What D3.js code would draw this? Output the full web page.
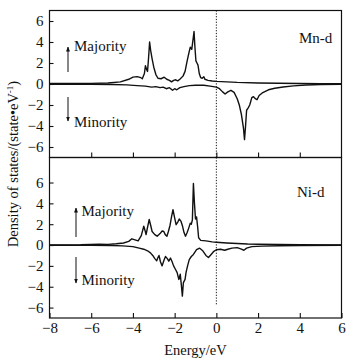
<!DOCTYPE html>
<html>
<head>
<meta charset="utf-8">
<script src="https://cdn.jsdelivr.net/npm/d3@7"></script>
<style>
  html, body { margin: 0; padding: 0; background: #fff; }
  svg { display: block; }
  text { font-family: "Liberation Serif", "Times New Roman", serif; fill: #111; }
</style>
</head>
<body>
<svg id="chart" width="348" height="364"></svg>
<script>
// Energy axis ticks and labels
const energyTicks = [-8, -6, -4, -2, 0, 2, 4, 6];
const innerEnergyTicks = [-6, -4, -2, 0, 2, 4];
const dosTicks = [-6, -4, -2, 0, 2, 4, 6];

// Mn-d projected DOS: [energy (eV), states/eV]
const mnUp = [
  [-8, 0.05], [-7, 0.05], [-6, 0.06], [-5.2, 0.1], [-4.6, 0.2], [-4.2, 0.45], [-4.0, 0.65],
  [-3.8, 0.7], [-3.62, 0.6], [-3.55, 0.5], [-3.45, 1.0], [-3.4, 1.75], [-3.35, 1.4], [-3.3, 1.2],
  [-3.25, 2.5], [-3.2, 4.0], [-3.15, 3.2], [-3.08, 2.4], [-3.0, 1.6], [-2.9, 0.9], [-2.8, 0.55],
  [-2.65, 0.5], [-2.5, 0.65], [-2.38, 0.45], [-2.25, 0.35], [-2.15, 0.2], [-2.05, 0.35],
  [-1.95, 0.4], [-1.85, 0.3], [-1.75, 0.45], [-1.6, 0.75], [-1.5, 1.2], [-1.4, 2.2], [-1.3, 3.1],
  [-1.25, 3.5], [-1.18, 3.3], [-1.12, 4.2], [-1.07, 5.0], [-1.03, 3.6], [-0.98, 2.2], [-0.93, 2.0],
  [-0.88, 1.8], [-0.82, 1.0], [-0.75, 0.6], [-0.68, 0.55], [-0.6, 0.7], [-0.55, 0.45], [-0.4, 0.35],
  [-0.2, 0.28], [0, 0.25], [0.5, 0.2], [1, 0.15], [2, 0.1], [3, 0.07], [4, 0.05], [5, 0.04], [6, 0.03]
];
const mnDown = [
  [-8, -0.02], [-6, -0.03], [-5, -0.05], [-4.3, -0.08], [-3.8, -0.15], [-3.4, -0.2], [-3.1, -0.3],
  [-2.9, -0.25], [-2.7, -0.35], [-2.55, -0.3], [-2.4, -0.45], [-2.25, -0.35], [-2.1, -0.6],
  [-2.0, -0.45], [-1.9, -0.55], [-1.75, -0.35], [-1.55, -0.25], [-1.3, -0.15], [-1.0, -0.12],
  [-0.6, -0.12], [-0.3, -0.2], [0, -0.3], [0.15, -0.45], [0.3, -0.75], [0.42, -0.95], [0.55, -0.75],
  [0.7, -0.6], [0.85, -0.8], [1.0, -1.4], [1.1, -2.0], [1.2, -2.9], [1.3, -4.2], [1.35, -5.3],
  [1.4, -4.0], [1.45, -2.5], [1.52, -2.3], [1.6, -2.0], [1.7, -1.3], [1.78, -1.2], [1.87, -1.4],
  [1.95, -1.5], [2.05, -1.1], [2.2, -0.85], [2.5, -0.55], [2.8, -0.4], [3.2, -0.28], [3.7, -0.18],
  [4.3, -0.1], [5, -0.05], [6, -0.02]
];

// Ni-d projected DOS: [energy (eV), states/eV]
const niUp = [
  [-8, 0.02], [-6.5, 0.03], [-5.6, 0.08], [-5.2, 0.06], [-4.8, 0.12], [-4.45, 0.2], [-4.2, 0.35],
  [-4.05, 0.6], [-3.9, 0.5], [-3.75, 0.4], [-3.6, 0.9], [-3.48, 1.8], [-3.42, 1.4], [-3.37, 1.0],
  [-3.3, 1.7], [-3.22, 2.45], [-3.15, 1.9], [-3.08, 1.3], [-2.95, 1.0], [-2.84, 0.85], [-2.7, 1.1],
  [-2.6, 1.35], [-2.52, 1.3], [-2.45, 1.0], [-2.37, 0.85], [-2.3, 1.3], [-2.22, 1.9], [-2.15, 2.7],
  [-2.08, 3.4], [-2.0, 2.6], [-1.93, 1.95], [-1.85, 2.2], [-1.78, 2.5], [-1.7, 2.3], [-1.62, 1.8],
  [-1.55, 1.2], [-1.48, 0.85], [-1.4, 1.2], [-1.33, 1.6], [-1.25, 2.1], [-1.2, 2.0], [-1.15, 2.4],
  [-1.1, 5.9], [-1.05, 4.0], [-1.0, 2.5], [-0.95, 2.7], [-0.9, 1.8], [-0.85, 0.7], [-0.75, 0.45],
  [-0.5, 0.4], [-0.2, 0.3], [0, 0.27], [0.5, 0.2], [1, 0.15], [1.5, 0.1], [2, 0.08], [3, 0.05],
  [4, 0.03], [6, 0.02]
];
const niDown = [
  [-8, -0.02], [-6, -0.03], [-5, -0.05], [-4.5, -0.08], [-4.0, -0.15], [-3.7, -0.3], [-3.48, -0.4],
  [-3.3, -0.55], [-3.16, -0.75], [-3.05, -1.0], [-2.95, -1.3], [-2.86, -1.5], [-2.8, -1.2],
  [-2.75, -1.0], [-2.68, -1.6], [-2.6, -2.0], [-2.52, -1.5], [-2.44, -1.1], [-2.35, -1.3],
  [-2.28, -1.55], [-2.2, -1.25], [-2.12, -1.6], [-2.05, -2.0], [-1.97, -2.3], [-1.88, -2.65],
  [-1.8, -3.3], [-1.73, -2.8], [-1.68, -3.8], [-1.63, -4.9], [-1.58, -3.6], [-1.5, -3.3],
  [-1.45, -2.6], [-1.38, -2.0], [-1.3, -1.4], [-1.2, -1.1], [-1.1, -0.9], [-0.95, -0.45],
  [-0.8, -0.3], [-0.65, -0.55], [-0.5, -1.0], [-0.38, -1.2], [-0.25, -0.9], [-0.12, -0.6],
  [0, -0.45], [0.2, -0.4], [0.4, -0.5], [0.55, -0.4], [0.75, -0.3], [1.0, -0.25], [1.2, -0.4],
  [1.32, -0.5], [1.45, -0.3], [1.7, -0.15], [2.2, -0.1], [3, -0.07], [4, -0.05], [6, -0.02]
];

const svg = d3.select("#chart");
const left = 49.5, right = 341.5;
const ink = "#111";

const x = d3.scaleLinear().domain([-8, 6]).range([left, right]);

const panels = [
  { name: "Mn-d", up: mnUp, down: mnDown, top: 10.5, bottom: 157.5, domain: [-7, 7],
    label: [299, 43], majority: [74, 51, 68, 47, 72], minority: [74, 127, 68, 121, 97],
    fermiEnd: 157.5, showLabels: false },
  { name: "Ni-d", up: niUp, down: niDown, top: 157.5, bottom: 318, domain: [-7, 8.4],
    label: [297, 197], majority: [81.5, 216, 76, 208, 237], minority: [81.5, 285, 76, 283, 257],
    fermiEnd: 305, showLabels: true }
];

svg.append("defs").append("marker")
  .attr("id", "head").attr("viewBox", "0 0 10 10")
  .attr("refX", 9).attr("refY", 5)
  .attr("markerWidth", 5).attr("markerHeight", 7)
  .attr("markerUnits", "userSpaceOnUse")
  .attr("orient", "auto")
  .append("path").attr("d", "M0,1 L10,5 L0,9 Z").attr("fill", ink);

panels.forEach(p => {
  const y = d3.scaleLinear().domain(p.domain).range([p.bottom, p.top]);
  const g = svg.append("g");

  // frame
  g.append("rect")
    .attr("x", left).attr("y", p.top)
    .attr("width", right - left).attr("height", p.bottom - p.top)
    .attr("fill", "none").attr("stroke", ink).attr("stroke-width", 1.2);

  // y axis, ticks pointing inward
  const ya = g.append("g").attr("transform", `translate(${left},0)`)
    .call(d3.axisLeft(y).tickValues(dosTicks).tickSize(-4).tickPadding(6));
  ya.select(".domain").remove();
  ya.selectAll("line").attr("stroke", ink).attr("stroke-width", 1.1);
  ya.selectAll("text").attr("font-size", 15).attr("font-family", "Liberation Serif, serif").attr("fill", ink);

  // x axis, ticks pointing inward
  const xa = g.append("g").attr("transform", `translate(0,${p.bottom})`)
    .call(d3.axisBottom(x)
      .tickValues(p.showLabels ? energyTicks : innerEnergyTicks)
      .tickSize(-5).tickPadding(4)
      .tickFormat(p.showLabels ? d3.format("d") : () => ""));
  xa.select(".domain").remove();
  xa.selectAll("line").attr("stroke", ink).attr("stroke-width", 1.1);
  xa.selectAll("text").attr("font-size", 15).attr("font-family", "Liberation Serif, serif").attr("fill", ink);

  // Fermi level
  g.append("line")
    .attr("x1", x(0)).attr("x2", x(0))
    .attr("y1", p.top).attr("y2", p.fermiEnd)
    .attr("stroke", ink).attr("stroke-width", 1)
    .attr("stroke-dasharray", "1.2,1.6");

  const line = d3.line().x(d => x(d[0])).y(d => y(d[1]));
  [p.up, p.down].forEach(series => {
    g.append("path").datum(series)
      .attr("d", line)
      .attr("fill", "none")
      .attr("stroke", ink)
      .attr("stroke-width", 1.4)
      .attr("stroke-linejoin", "round");
  });

  // spin labels with arrows
  const [mx, my, ax, ay1, ay2] = p.majority;
  g.append("text").attr("x", mx).attr("y", my).attr("font-size", 15).text("Majority");
  g.append("line").attr("x1", ax).attr("x2", ax).attr("y1", ay2).attr("y2", ay1)
    .attr("stroke", ink).attr("stroke-width", 1).attr("marker-end", "url(#head)");
  const [nx, ny, bx, by1, by2] = p.minority;
  g.append("text").attr("x", nx).attr("y", ny).attr("font-size", 15).text("Minority");
  g.append("line").attr("x1", bx).attr("x2", bx).attr("y1", by2).attr("y2", by1)
    .attr("stroke", ink).attr("stroke-width", 1).attr("marker-end", "url(#head)");

  g.append("text").attr("x", p.label[0]).attr("y", p.label[1])
    .attr("font-size", 15).text(p.name);
});

// axis titles
svg.append("text")
  .attr("x", (left + right) / 2).attr("y", 355)
  .attr("text-anchor", "middle").attr("font-size", 14.5)
  .text("Energy/eV");

const yt = svg.append("text")
  .attr("transform", "translate(18,164) rotate(-90)")
  .attr("text-anchor", "middle").attr("font-size", 14.5);
yt.append("tspan").text("Density of states/(state•eV");
yt.append("tspan").attr("font-size", 9).attr("dy", -5).text("-1");
yt.append("tspan").attr("dy", 5).text(")");
</script>
</body>
</html>
